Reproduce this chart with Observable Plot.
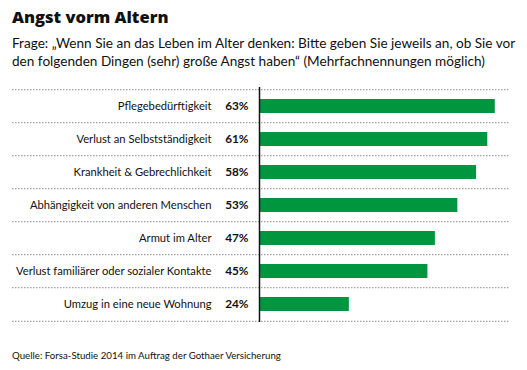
<!DOCTYPE html>
<html><head><meta charset="utf-8">
<script src="https://cdn.jsdelivr.net/npm/d3@7"></script>
<script src="https://cdn.jsdelivr.net/npm/@observablehq/plot@0.6"></script>
<style>
body{margin:0;background:#fff;}
#wrap{position:relative;width:527px;height:370px;font-family:Lato,sans-serif;color:#111;}
#title{position:absolute;left:12px;top:7px;font-family:"Open Sans",sans-serif;font-size:16.5px;line-height:20px;font-weight:800;white-space:nowrap;}
#sub{position:absolute;left:12px;top:34px;font-size:13.6px;line-height:18px;white-space:nowrap;}
#chart{position:absolute;left:0;top:80px;}
#cap{position:absolute;left:12px;top:348px;font-size:9.7px;line-height:14px;white-space:nowrap;}
</style></head><body>
<div id="wrap">
<div id="title">Angst vorm Altern</div>
<div id="sub">Frage: „Wenn Sie an das Leben im Alter denken: Bitte geben Sie jeweils an, ob Sie vor<br>den folgenden Dingen (sehr) große Angst haben“ (Mehrfachnennungen möglich)</div>
<div id="chart"></div>
<div id="cap">Quelle: Forsa-Studie 2014 im Auftrag der Gothaer Versicherung</div>
</div>
<script>
const categories = [
  "Pflegebedürftigkeit",
  "Verlust an Selbstständigkeit",
  "Krankheit & Gebrechlichkeit",
  "Abhängigkeit von anderen Menschen",
  "Armut im Alter",
  "Verlust familiärer oder sozialer Kontakte",
  "Umzug in eine neue Wohnung"
];
const values = [63, 61, 58, 53, 47, 45, 24];
const data = categories.map((c, i) => ({label: c, value: values[i]}));

const H = 250, MT = 7, MB = 8;
const step = (H - MT - MB) / categories.length;

const chart = Plot.plot({
  width: 527, height: H,
  marginTop: MT, marginBottom: MB, marginLeft: 259, marginRight: 18,
  x: {domain: [0, 66.8], axis: null},
  y: {domain: categories, paddingInner: 0.58, paddingOuter: 0.29, axis: null},
  style: {fontFamily: "Lato, sans-serif", fontSize: "11.2px", color: "#111", background: "transparent"},
  marks: [
    Plot.ruleY(categories, {y: d => d, dy: -step / 2, stroke: "#8a8a8a", strokeDasharray: "1.5,1.5", insetLeft: -247}),
    Plot.ruleY([categories[categories.length - 1]], {y: d => d, dy: step / 2, stroke: "#8a8a8a", strokeDasharray: "1.5,1.5", insetLeft: -247}),
    Plot.barX(data, {x: "value", y: "label", fill: "#00963f", insetLeft: 1}),
    Plot.ruleX([0], {stroke: "#111", strokeWidth: 1.5}),
    Plot.text(data, {y: "label", text: "label", frameAnchor: "left", dx: -48, textAnchor: "end", fill: "#111"}),
    Plot.text(data, {y: "label", text: d => d.value + "%", frameAnchor: "left", dx: -11, textAnchor: "end", fontWeight: "bold", fontSize: 11.8, fill: "#111"})
  ]
});
document.getElementById("chart").appendChild(chart);
</script>
</body></html>
